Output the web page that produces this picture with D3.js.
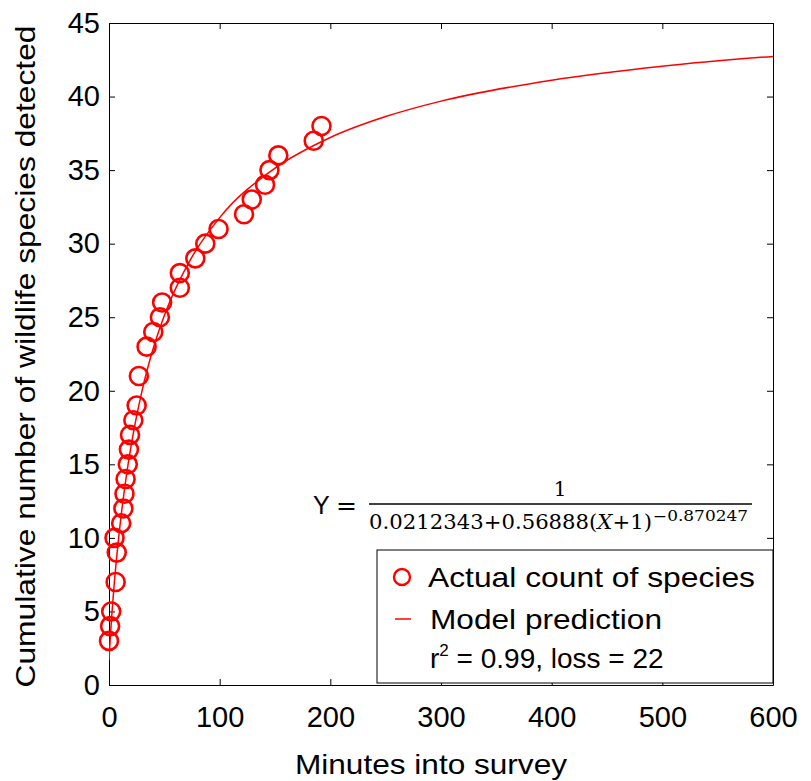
<!DOCTYPE html>
<html>
<head>
<meta charset="utf-8">
<script src="https://cdn.jsdelivr.net/npm/d3@7"></script>
<style>
    body { margin: 0; background: #fff; }
    svg text { font-family: "Liberation Sans", Arial, sans-serif; fill: #000; }
    svg text.math { font-family: "DejaVu Serif", serif; }
    .axis path, .axis line { stroke: #000; stroke-width: 1; }
</style>
</head>
<body>
<svg id="chart" width="811" height="781"></svg>
<script>

const minutes = [0, 1, 2, 6, 7, 5, 11, 13, 14, 15, 17, 18, 19, 22, 25, 27, 34, 40, 46, 48,
    64, 64, 78, 87, 99, 122, 129, 141, 145, 153, 185, 192];
const species = [3, 4, 5, 7, 9, 10, 11, 12, 13, 14, 15, 16, 17, 18, 19, 21, 23, 24, 25, 26,
    27, 28, 29, 30, 31, 32, 33, 34, 35, 36, 37, 38];

//  model curve, sampled off the red line
const modelX = [0, 1, 2, 5, 10, 15, 20, 30, 40, 50, 75, 100, 150, 200, 250, 300, 400, 500, 600];
const modelY = [1.69, 3.01, 4.17, 7.10, 10.89, 13.85, 16.27, 20.05, 22.89, 25.12, 29.10, 31.77,
    35.13, 37.22, 38.64, 39.69, 41.11, 42.06, 42.73];

const xTicks = [0, 100, 200, 300, 400, 500, 600];
const yTicks = [0, 5, 10, 15, 20, 25, 30, 35, 40, 45];

const xTitle = "Minutes into survey";
const yTitle = "Cumulative number of wildlife species detected";
const legendLabels = ["Actual count of species", "Model prediction"];
const statsLabel = ["r", "2", " = 0.99, loss = 22"];

const box = {left: 109, right: 773, top: 23, bottom: 685};
const red = "#ff0000";

const svg = d3.select("#chart");

const x = d3.scaleLinear().domain([0, 600]).range([box.left, box.right]);
const y = d3.scaleLinear().domain([0, 45]).range([box.bottom, box.top]);

//  axes, MATLAB style: ticks inward on all four sides
svg.append("g")
    .attr("class", "axis")
    .attr("transform", `translate(0,${box.bottom})`)
    .call(d3.axisBottom(x).tickValues(xTicks).tickSize(-6).tickSizeOuter(0).tickPadding(21))
    .call(g => g.selectAll("text").attr("font-size", 29));

svg.append("g")
    .attr("class", "axis")
    .attr("transform", `translate(0,${box.top})`)
    .call(d3.axisTop(x).tickValues(xTicks).tickSize(-6).tickSizeOuter(0).tickFormat(""));

svg.append("g")
    .attr("class", "axis")
    .attr("transform", `translate(${box.left},0)`)
    .call(d3.axisLeft(y).tickValues(yTicks).tickSize(-6).tickSizeOuter(0).tickPadding(9))
    .call(g => g.selectAll("text").attr("font-size", 29));

svg.append("g")
    .attr("class", "axis")
    .attr("transform", `translate(${box.right},0)`)
    .call(d3.axisRight(y).tickValues(yTicks).tickSize(-6).tickSizeOuter(0).tickFormat(""));

//  titles
svg.append("text")
    .attr("x", (295 + 567) / 2)
    .attr("y", 774)
    .attr("text-anchor", "middle")
    .attr("font-size", 28)
    .attr("textLength", 272)
    .attr("lengthAdjust", "spacingAndGlyphs")
    .text(xTitle);

svg.append("text")
    .attr("transform", `translate(35,${(25 + 688) / 2}) rotate(-90)`)
    .attr("text-anchor", "middle")
    .attr("font-size", 28)
    .attr("textLength", 662)
    .attr("lengthAdjust", "spacingAndGlyphs")
    .text(yTitle);

//  model line
svg.append("clipPath").attr("id", "plotClip")
    .append("rect")
    .attr("x", box.left).attr("y", box.top)
    .attr("width", box.right - box.left).attr("height", box.bottom - box.top);

const line = d3.line()
    .x((d, i) => x(modelX[i]))
    .y(d => y(d))
    .curve(d3.curveMonotoneX);

svg.append("path")
    .attr("clip-path", "url(#plotClip)")
    .attr("d", line(modelY))
    .attr("fill", "none")
    .attr("stroke", red)
    .attr("stroke-width", 1.5);

//  observed points
svg.append("g")
    .selectAll("circle")
    .data(species)
    .join("circle")
    .attr("cx", (d, i) => x(minutes[i]))
    .attr("cy", d => y(d))
    .attr("r", 9)
    .attr("fill", "none")
    .attr("stroke", red)
    .attr("stroke-width", 2.6);

//  formula
const fx = svg.append("g");
fx.append("text")
    .attr("x", 313).attr("y", 514)
    .attr("font-size", 25)
    .text("Y");
fx.append("text")
    .attr("class", "math")
    .attr("x", 336).attr("y", 514)
    .attr("font-size", 25)
    .text("=");
fx.append("line")
    .attr("x1", 369).attr("x2", 752)
    .attr("y1", 504).attr("y2", 504)
    .attr("stroke", "#000").attr("stroke-width", 1.5);
fx.append("text")
    .attr("class", "math")
    .attr("x", 560).attr("y", 496)
    .attr("text-anchor", "middle")
    .attr("font-size", 20)
    .text("1");

const den = fx.append("text")
    .attr("class", "math")
    .attr("x", 369).attr("y", 529)
    .attr("font-size", 20)
    .attr("textLength", 283)
    .attr("lengthAdjust", "spacingAndGlyphs");
den.append("tspan").text("0.0212343+0.56888(");
den.append("tspan").attr("font-style", "italic").text("X");
den.append("tspan").text("+1)");

fx.append("text")
    .attr("class", "math")
    .attr("x", 653).attr("y", 521)
    .attr("font-size", 14)
    .attr("textLength", 95)
    .attr("lengthAdjust", "spacingAndGlyphs")
    .text("\u22120.870247");

//  legend
const lg = svg.append("g");
lg.append("rect")
    .attr("x", 377).attr("y", 550)
    .attr("width", 396).attr("height", 133)
    .attr("fill", "#fff")
    .attr("stroke", "#000")
    .attr("stroke-width", 1);
lg.append("circle")
    .attr("cx", 402).attr("cy", 577).attr("r", 8)
    .attr("fill", "none").attr("stroke", red).attr("stroke-width", 2.4);
lg.append("line")
    .attr("x1", 395).attr("x2", 411)
    .attr("y1", 619).attr("y2", 619)
    .attr("stroke", red).attr("stroke-width", 1.5);

lg.append("text")
    .attr("x", 428).attr("y", 587)
    .attr("font-size", 28)
    .attr("textLength", 327)
    .attr("lengthAdjust", "spacingAndGlyphs")
    .text(legendLabels[0]);
lg.append("text")
    .attr("x", 430).attr("y", 629)
    .attr("font-size", 28)
    .attr("textLength", 232)
    .attr("lengthAdjust", "spacingAndGlyphs")
    .text(legendLabels[1]);

const st = lg.append("text")
    .attr("x", 430).attr("y", 668)
    .attr("font-size", 28);
st.append("tspan").text(statsLabel[0]);
st.append("tspan").attr("font-size", 17).attr("dy", -12).text(statsLabel[1]);
st.append("tspan").attr("dy", 12).text(statsLabel[2]);

</script>
</body>
</html>
